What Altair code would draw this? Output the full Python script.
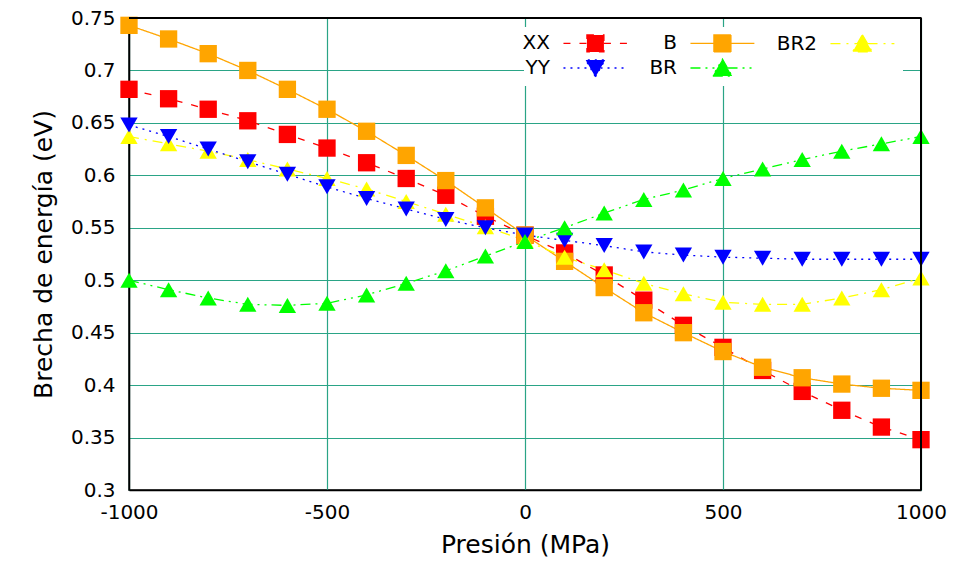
import altair as alt
import pandas as pd

pressure = list(range(-1000, 1001, 100))

xx = [0.682, 0.673, 0.663, 0.652, 0.639, 0.626, 0.612, 0.597, 0.581, 0.561, 0.543,
      0.526, 0.505, 0.481, 0.457, 0.436, 0.414, 0.394, 0.376, 0.360, 0.348]
b = [0.743, 0.730, 0.716, 0.700, 0.682, 0.663, 0.642, 0.619, 0.595, 0.569, 0.543,
     0.518, 0.493, 0.469, 0.450, 0.432, 0.417, 0.407, 0.401, 0.397, 0.395]
yy = [0.648, 0.637, 0.625, 0.613, 0.601, 0.589, 0.578, 0.568, 0.558, 0.550, 0.543,
      0.538, 0.533, 0.527, 0.524, 0.522, 0.521, 0.520, 0.520, 0.520, 0.520]
br2 = [0.637, 0.630, 0.623, 0.615, 0.606, 0.597, 0.587, 0.575, 0.563, 0.551, 0.538,
       0.522, 0.510, 0.497, 0.487, 0.479, 0.477, 0.477, 0.483, 0.491, 0.502]
br = [0.500, 0.491, 0.483, 0.477, 0.476, 0.478, 0.486, 0.497, 0.509, 0.523, 0.537,
      0.550, 0.564, 0.577, 0.586, 0.597, 0.606, 0.615, 0.623, 0.630, 0.637]

series_names = ["XX", "B", "BR2", "YY", "BR"]
series_values = [xx, b, br2, yy, br]
series_colors = ["#ff0000", "#ffa500", "#ffff00", "#0000ff", "#00ff00"]
series_shapes = ["square", "square", "triangle-up", "triangle-down", "triangle-up"]
series_dashes = [[7, 9], [1, 0], [10, 6, 2, 6], [2, 5], [10, 5, 2, 5, 2, 5]]

x_ticks = [-1000, -500, 0, 500, 1000]
y_ticks = [0.3, 0.35, 0.4, 0.45, 0.5, 0.55, 0.6, 0.65, 0.7, 0.75]

# legend sample symbols (gnuplot style): line segment with the marker, right of the label
SQ = "M2.76,0H5.52M7.52,0H10.28M5.52,-1H7.52V1H5.52Z"
TU = "M2.76,0H5.92M7.12,0H10.28M6.52,-1.05L7.67,0.95L5.37,0.95Z"
TD = "M2.76,0H5.92M7.12,0H10.28M6.52,1.05L7.67,-0.95L5.37,-0.95Z"
legend_shapes = [SQ, SQ, TU, TD, TU]

rows = []
for name, vals in zip(series_names, series_values):
    for p, v in zip(pressure, vals):
        rows.append({"Presión": p, "Brecha": v, "serie": name, "leyenda": name})
df = pd.DataFrame(rows)

FONT = "DejaVu Sans"
FS = "\u2007"
PS = "\u2008"

label_pad = {
    "XX": FS + FS + PS,
    "YY": FS + FS + PS,
    "B": FS + FS + FS,
    "BR": FS + FS,
    "BR2": "",
}

x = alt.X("Presión:Q",
          scale=alt.Scale(domain=[-1000, 1000], nice=False, zero=False),
          axis=alt.Axis(values=x_ticks, title="Presión (MPa)", grid=True,
                        labelFlush=False, labelExpr="datum.value + ''"))
y = alt.Y("Brecha:Q",
          scale=alt.Scale(domain=[0.3, 0.75], nice=False, zero=False),
          axis=alt.Axis(values=y_ticks, title="Brecha de energía (eV)", grid=True,
                        labelExpr="datum.value + ''"))

color = alt.Color("serie:N", scale=alt.Scale(domain=series_names, range=series_colors),
                  legend=None)
shape = alt.Shape("serie:N", scale=alt.Scale(domain=series_names, range=series_shapes),
                  legend=None)
dash = alt.StrokeDash("serie:N", scale=alt.Scale(domain=series_names, range=series_dashes),
                      legend=None)

lines = alt.Chart(df).mark_line(strokeWidth=1.3).encode(
    x=x, y=y, color=color, strokeDash=dash, order="Presión:Q")
points = alt.Chart(df).mark_point(filled=True, opacity=1, size=300).encode(
    x=x, y=y, color=color, shape=shape)

label_expr = " : ".join(
    "datum.label == '%s' ? '%s%s'" % (k, v, k) for k, v in label_pad.items()
) + " : datum.label"

leg = alt.Legend(orient="none", legendX=395, legendY=9, columns=3,
                 direction="horizontal", fillColor="white", title=None,
                 labelFontSize=20, labelFont=FONT, labelColor="black",
                 labelAlign="right", labelOffset=0, labelExpr=label_expr,
                 symbolSize=289, symbolStrokeWidth=1.3, symbolOpacity=1,
                 columnPadding=19, rowPadding=1, padding=6)

legend_layer = alt.Chart(df).transform_filter("false").mark_point(
    filled=True, opacity=1, strokeWidth=1.3).encode(
    x=x, y=y,
    fill=alt.Fill("leyenda:N", scale=alt.Scale(domain=series_names, range=series_colors),
                  legend=leg, title=None),
    stroke=alt.Stroke("leyenda:N", scale=alt.Scale(domain=series_names, range=series_colors),
                      legend=leg, title=None),
    shape=alt.Shape("leyenda:N", scale=alt.Scale(domain=series_names, range=legend_shapes),
                    legend=leg, title=None),
    strokeDash=alt.StrokeDash("leyenda:N",
                              scale=alt.Scale(domain=series_names, range=series_dashes),
                              legend=leg, title=None),
)

frame_top = alt.Chart(df).mark_rule(color="black", strokeWidth=1.5).encode(
    y=alt.datum(0.75))
frame_right = alt.Chart(df).mark_rule(color="black", strokeWidth=1.5).encode(
    x=alt.datum(1000))

chart = alt.layer(lines, points, frame_top, frame_right, legend_layer).resolve_scale(
    shape="independent", strokeDash="independent", fill="independent",
    stroke="independent"
).properties(
    width=792, height=472,
    autosize=alt.AutoSizeParams(type="none"),
    padding={"left": 129, "top": 18, "right": 33, "bottom": 75},
).configure_view(stroke="black", strokeWidth=1.5).configure_axis(
    gridColor="#2aa486", gridOpacity=1, gridWidth=1.2,
    domainColor="black", domainWidth=1.5, tickSize=0,
    labelFont=FONT, labelFontSize=20, labelColor="black",
    titleFont=FONT, titleFontSize=25, titleFontWeight="normal", titleColor="black",
).configure_axisX(labelPadding=12, titlePadding=10).configure_axisY(
    labelPadding=14, titlePadding=14)

chart.save("out.html", embed_options={"renderer": "svg", "actions": False})
